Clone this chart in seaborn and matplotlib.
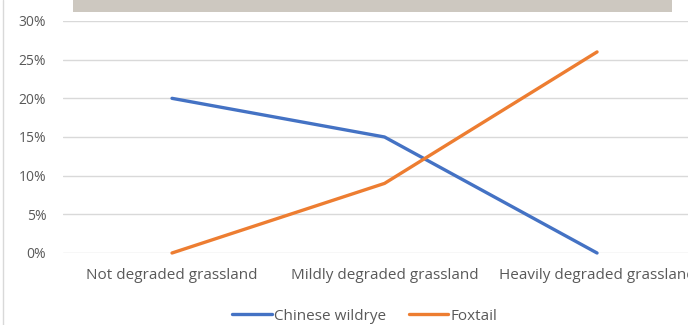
import matplotlib
matplotlib.use("Agg")
import matplotlib.pyplot as plt
from matplotlib.patches import Rectangle
from matplotlib.lines import Line2D
from matplotlib.ticker import FuncFormatter
import seaborn as sns
import pandas as pd

categories = ["Not degraded grassland", "Mildly degraded grassland", "Heavily degraded grassland"]
chinese_wildrye = [0.20, 0.15, 0.00]
foxtail = [0.00, 0.09, 0.26]
series_names = ["Chinese wildrye", "Foxtail"]
y_ticks = [0.00, 0.05, 0.10, 0.15, 0.20, 0.25, 0.30]

df = pd.DataFrame({
    "pos": list(range(len(categories))) * 2,
    "share": chinese_wildrye + foxtail,
    "species": [series_names[0]] * 3 + [series_names[1]] * 3,
})

sns.set_theme(style="white")
plt.rcParams["font.family"] = ["Open Sans", "DejaVu Sans"]

W, H = 688, 325
fig = plt.figure(figsize=(W / 100, H / 100), dpi=100)
fig.patch.set_facecolor("white")

# plot area in pixel coordinates
left, right, top, bottom = 63, 688, 21, 253
ax = fig.add_axes([left / W, 1 - bottom / H, (right - left) / W, (bottom - top) / H])
ax.set_facecolor("white")

palette = {series_names[0]: "#4472C4", series_names[1]: "#ED7D31"}
sns.lineplot(data=df, x="pos", y="share", hue="species", palette=palette,
             linewidth=2.4, ax=ax, legend=False, clip_on=False, zorder=3)

ax.set_ylim(0, 0.30)
ax.set_xlim(-0.513, 2.428)
ax.set_yticks(y_ticks)
ax.yaxis.set_major_formatter(FuncFormatter(lambda v, p: f"{round(v * 100):d}%"))
ax.set_xticks(range(len(categories)))
ax.set_xticklabels(categories)
ax.grid(axis="y", color="#d9d9d9", linewidth=1)
ax.set_axisbelow(True)
for s in ax.spines.values():
    s.set_visible(False)
ax.tick_params(axis="both", length=0, labelcolor="#595959")
ax.tick_params(axis="x", labelsize=11, pad=11)
ax.tick_params(axis="y", labelsize=10, pad=12)
ax.set_xlabel("")
ax.set_ylabel("")

# legend below the plot
handles = [Line2D([0], [0], color=palette[n], linewidth=2.4) for n in series_names]
fig.legend(handles, series_names, loc="center", bbox_to_anchor=(365 / W, 1 - 316 / H),
           ncol=2, frameon=False, fontsize=11, handlelength=2.6, handletextpad=0.15,
           columnspacing=1.45, labelcolor="#595959")

# title strip at top and left frame edge
fig.add_artist(Rectangle((73 / W, 1 - 12 / H), (672 - 73) / W, 12 / H,
                         transform=fig.transFigure, facecolor="#cdc8c0", edgecolor="none"))
fig.add_artist(Line2D([3 / W, 3 / W], [0, 1], transform=fig.transFigure,
                      color="#d9d9d9", linewidth=1))

fig.savefig("out.png", dpi=100)
